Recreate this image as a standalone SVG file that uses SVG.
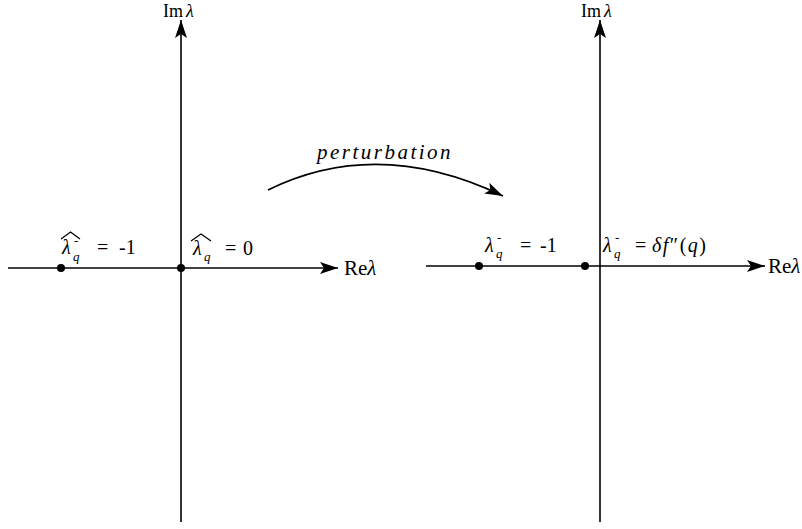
<svg xmlns="http://www.w3.org/2000/svg" width="802" height="529" viewBox="0 0 802 529">
<style>
.ax{stroke:#000;stroke-width:1.6;fill:none}
.t{font-family:"Liberation Serif","DejaVu Serif",serif;font-size:20px;fill:#000}
.i{font-style:italic}
.s{font-size:13px}
.hat{stroke:#000;stroke-width:1.3;fill:none}
</style>
<defs>
<marker id="ah" markerWidth="20" markerHeight="12" refX="18" refY="6" orient="auto" markerUnits="userSpaceOnUse">
<path d="M0,0 L18,6 L0,12 L4,6 Z" fill="#000"/>
</marker>
</defs>
<rect width="802" height="529" fill="#fff"/>
<g id="connectors">
<line class="ax" x1="8" y1="268" x2="338" y2="268" marker-end="url(#ah)"/>
<line class="ax" x1="181" y1="522" x2="181" y2="20" marker-end="url(#ah)"/>
<line class="ax" x1="426" y1="266" x2="765" y2="266" marker-end="url(#ah)"/>
<line class="ax" x1="600" y1="522" x2="600" y2="20" marker-end="url(#ah)"/>
<path class="ax" d="M268,190 Q378,136 503,196" marker-end="url(#ah)"/>
</g>
<g id="left-plane">
<text class="t" x="163" y="17" style="font-size:18px">Im<tspan class="i" dx="3">λ</tspan></text>
<text class="t" x="344" y="275" style="font-size:21px">Re<tspan class="i">λ</tspan></text>
<circle cx="61" cy="268" r="4"/>
<circle cx="181" cy="268" r="4"/>
</g>
<g id="label-left-1">
<path class="hat" d="M61,239 L70.5,232 L80,239"/>
<text class="t i" x="62" y="254">λ</text>
<text class="t i s" x="73" y="261">q</text>
<text class="t s" x="74" y="245">-</text>
<text class="t" x="97" y="254">=</text>
<text class="t" x="119" y="254">-1</text>
</g>
<g id="label-left-2">
<path class="hat" d="M191,241 L201,234 L211,241"/>
<text class="t i" x="193" y="255">λ</text>
<text class="t i s" x="204" y="261">q</text>
<text class="t" x="225" y="255">=</text>
<text class="t" x="243" y="255">0</text>
</g>
<g id="right-plane">
<text class="t" x="581" y="17" style="font-size:18px">Im<tspan class="i" dx="3">λ</tspan></text>
<text class="t" x="768" y="273" style="font-size:21px">Re<tspan class="i">λ</tspan></text>
<circle cx="479" cy="266" r="4"/>
<circle cx="585" cy="266" r="4"/>
</g>
<g id="label-right-1">
<text class="t i" x="485" y="252">λ</text>
<text class="t i s" x="496" y="258">q</text>
<text class="t s" x="497" y="242">-</text>
<text class="t" x="520" y="252">=</text>
<text class="t" x="540" y="252">-1</text>
</g>
<g id="label-right-2">
<text class="t i" x="603" y="252">λ</text>
<text class="t i s" x="614" y="258">q</text>
<text class="t s" x="615" y="242">-</text>
<text class="t" x="635" y="252">=</text>
<text class="t" x="652" y="252" style="letter-spacing:1.5px"><tspan class="i">δf</tspan>″(<tspan class="i">q</tspan>)</text>
</g>
<g id="arrow-label">
<text class="t i" x="385" y="159" text-anchor="middle" style="font-size:21px;letter-spacing:2.5px">perturbation</text>
</g>
</svg>
